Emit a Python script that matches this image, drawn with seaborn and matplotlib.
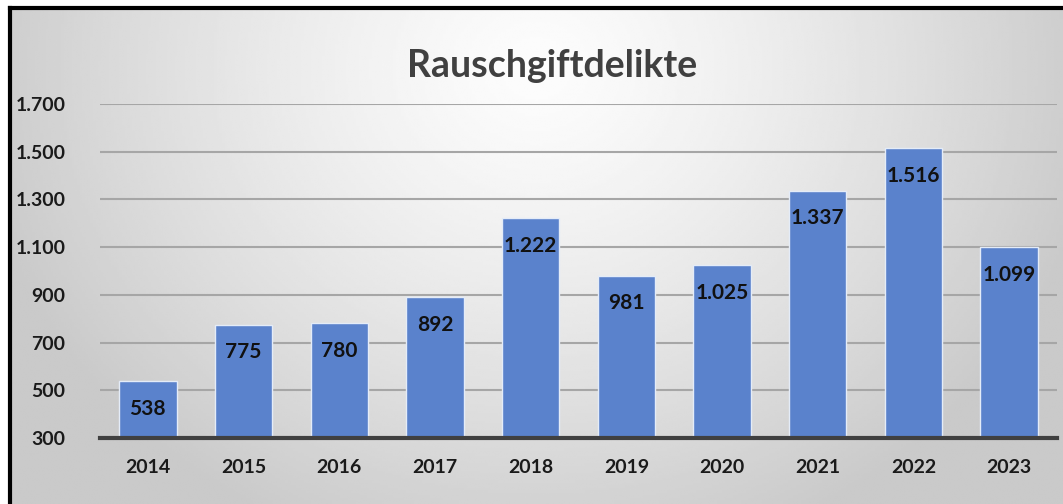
import matplotlib.pyplot as plt
import numpy as np
import pandas as pd
import seaborn as sns

years = ["2014", "2015", "2016", "2017", "2018", "2019", "2020", "2021", "2022", "2023"]
cases = [538, 775, 780, 892, 1222, 981, 1025, 1337, 1516, 1099]
y_ticks = [300, 500, 700, 900, 1100, 1300, 1500, 1700]
title = "Rauschgiftdelikte"

BAR_COLOR = "#5a82cc"
FONT = ["Lato", "DejaVu Sans"]


def de_format(v: int) -> str:
    # German thousands separator
    return f"{v:,}".replace(",", ".")


sns.set_theme(style="white")
plt.rcParams["font.family"] = FONT

df = pd.DataFrame({"year": years, "cases": cases})

fig = plt.figure(figsize=(10.63, 5.04), dpi=100)
fig.patch.set_facecolor("white")

# background panel with radial gradient and black frame (left/top)
frame_left, frame_top = 10 / 1063, 1 - 8 / 504
bg = fig.add_axes([frame_left, 0, 1 - frame_left, frame_top], zorder=0)
gx, gy = np.meshgrid(np.linspace(-1, 1, 400), np.linspace(0, 1, 200))
r = np.sqrt(gx**2 + ((gy - 0.12) / 0.95) ** 2)
shade = np.clip(0.99 - 0.18 * r**1.3, 0.79, 0.99)
bg.imshow(shade, cmap="gray", vmin=0, vmax=1, aspect="auto", extent=[0, 1, 0, 1],
          origin="upper", interpolation="bilinear")
bg.set_xticks([])
bg.set_yticks([])
for side in ("right", "bottom"):
    bg.spines[side].set_visible(False)
for side in ("left", "top"):
    bg.spines[side].set_color("black")
    bg.spines[side].set_linewidth(3)

ax = fig.add_axes([100 / 1063, 1 - 438 / 504, 957 / 1063, (438 - 104) / 504], zorder=1)
ax.patch.set_alpha(0)

sns.barplot(data=df, x="year", y="cases", color=BAR_COLOR, saturation=1,
            width=0.6, edgecolor="#e4ecf8", linewidth=1.0, ax=ax, zorder=3)

ax.set_ylim(300, 1700)
ax.set_xlim(-0.5, len(years) - 0.5)
ax.set_yticks(y_ticks)
ax.set_yticklabels([de_format(t) for t in y_ticks])
ax.tick_params(axis="y", length=0, pad=25, labelsize=14)
ax.tick_params(axis="x", length=0, pad=15, labelsize=14)
for lbl in ax.get_xticklabels() + ax.get_yticklabels():
    lbl.set_fontweight("bold")
    lbl.set_color("#1a1a1a")
ax.set_xlabel("")
ax.set_ylabel("")

ax.yaxis.grid(True, color="#a6a6a6", linewidth=1.5, zorder=0)
ax.set_axisbelow(True)
for side in ("left", "right", "top"):
    ax.spines[side].set_visible(False)
ax.spines["bottom"].set_color("#404040")
ax.spines["bottom"].set_linewidth(3)
ax.spines["bottom"].set_zorder(5)

for i, v in enumerate(cases):
    ax.annotate(de_format(v), (i, v), xytext=(0, -20), textcoords="offset points",
                ha="center", va="center", fontsize=15, fontweight="bold",
                color="#111111", zorder=6)

fig.text(552 / 1063, 1 - 66 / 504, title, ha="center", va="center",
         fontsize=27, fontweight="bold", color="#404040")

fig.savefig("out.png", dpi=100)
